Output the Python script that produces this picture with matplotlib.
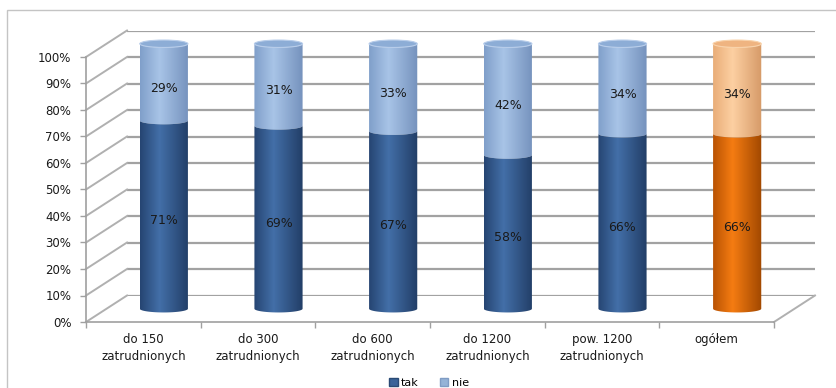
import numpy as np
import matplotlib
matplotlib.use("Agg")
import matplotlib.pyplot as plt
from matplotlib.patches import PathPatch, Ellipse, Rectangle, Patch
from matplotlib.path import Path
from matplotlib.colors import LinearSegmentedColormap
from matplotlib.lines import Line2D
from matplotlib.transforms import IdentityTransform

categories = ["do 150\nzatrudnionych", "do 300\nzatrudnionych", "do 600\nzatrudnionych",
              "do 1200\nzatrudnionych", "pow. 1200\nzatrudnionych", "ogółem"]
tak = [71, 69, 67, 58, 66, 66]
nie = [29, 31, 33, 42, 34, 34]
tick_values = list(range(0, 101, 10))
legend_labels = ["tak", "nie"]

W, H = 836, 388
fig = plt.figure(figsize=(W / 100, H / 100), dpi=100)


def box(left, top, width, height):
    return [left / W, (H - top - height) / H, width / W, height / H]


# three planes of the fake 3d box: front (axes), middle (cylinders), back (walls)
PW, PH = 688, 265
DX, DY = 20.5, 13.25
MARGIN = 5  # extra room (in %) around the cylinder plane so caps/bottoms are not clipped
mpx = PH / 100 * MARGIN
front = fig.add_axes(box(86, 57, PW, PH))
mid = fig.add_axes(box(86 + DX, 57 - DY - mpx, PW, PH + 2 * mpx))
back = fig.add_axes(box(86 + 2 * DX, 57 - 2 * DY, PW, PH))
back.set_zorder(0)
front.set_zorder(1)
mid.set_zorder(2)

grid_col = "#a2a2a2"
for a in (front, back):
    a.set_xlim(-0.5, len(categories) - 0.5)
    a.set_ylim(0, 100)
    a.patch.set_visible(False)
mid.patch.set_visible(False)

# back wall gridlines
back.set_yticks(tick_values)
back.yaxis.grid(True, color=grid_col, lw=1.6)
back.tick_params(left=False, labelleft=False, bottom=False, labelbottom=False)
for s in back.spines.values():
    s.set_visible(False)

# front axes: tick labels and axis lines
for side in ("top", "right"):
    front.spines[side].set_visible(False)
for side in ("left", "bottom"):
    front.spines[side].set_color("#a0a0a0")
    front.spines[side].set_linewidth(1.2)
front.set_yticks(tick_values)
front.set_yticklabels([f"{v}%" for v in tick_values])
front.tick_params(axis="y", length=4, width=1, color="#a0a0a0", pad=6.5,
                  labelsize=8.5, labelcolor="#1a1a1a")
front.set_xticks(range(len(categories)))
front.set_xticklabels(categories, fontsize=8.5, color="#1a1a1a", linespacing=1.4)
front.set_xticks(np.arange(-0.5, len(categories)), minor=True)
front.tick_params(axis="x", which="major", length=0, pad=8)
front.tick_params(axis="x", which="minor", length=4, width=1, color="#a0a0a0")

# side wall and floor diagonals joining front and back planes
def diagonal(x, y):
    p0 = front.transData.transform((x, y))
    p1 = back.transData.transform((x, y))
    fig.add_artist(Line2D([p0[0], p1[0]], [p0[1], p1[1]], transform=IdentityTransform(),
                          color="#b0b0b0", lw=1.4, zorder=0.5))


for t in tick_values:
    diagonal(-0.5, t)
diagonal(len(categories) - 0.5, 0)

# cylinders
bar_w = 0.42
ry = 1.4
blue_tak = LinearSegmentedColormap.from_list("bt", [(0, "#264572"), (0.4, "#436fa8"), (1, "#223e67")])
blue_nie = LinearSegmentedColormap.from_list("bn", [(0, "#809fca"), (0.4, "#a8c4e7"), (1, "#7592bd")])
orng_tak = LinearSegmentedColormap.from_list("ot", [(0, "#b95303"), (0.4, "#f57c12"), (1, "#a14800")])
orng_nie = LinearSegmentedColormap.from_list("on", [(0, "#e9ad78"), (0.4, "#fdd0a2"), (1, "#d69a68")])
grad = np.linspace(0, 1, 200).reshape(1, -1)


def segment_path(xc, y0, y1):
    th = np.linspace(0, np.pi, 40)
    xl, xr = xc - bar_w / 2, xc + bar_w / 2
    verts = [(xl, y1), (xl, y0)]
    verts += list(zip(xc - bar_w / 2 * np.cos(th), y0 - ry * np.sin(th)))
    verts += [(xr, y1)]
    verts += list(zip(xc + bar_w / 2 * np.cos(th), y1 - ry * np.sin(th)))
    verts += [(xl, y1)]
    codes = [Path.MOVETO] + [Path.LINETO] * (len(verts) - 2) + [Path.CLOSEPOLY]
    return Path(verts, codes)


for i, (t, n) in enumerate(zip(tak, nie)):
    total = t + n
    if categories[i] == "ogółem":
        cmaps, cap, cap_edge = (orng_tak, orng_nie), "#efb481", "#f9d3ab"
    else:
        cmaps, cap, cap_edge = (blue_tak, blue_nie), "#8dadd6", "#b8cdea"
    for (y0, y1, cm) in ((t, total, cmaps[1]), (0, t, cmaps[0])):
        patch = PathPatch(segment_path(i, y0, y1), facecolor="none", edgecolor="none",
                          transform=mid.transData)
        mid.add_patch(patch)
        im = mid.imshow(grad, cmap=cm, extent=[i - bar_w / 2, i + bar_w / 2, y0 - ry - 1, y1 + 1],
                        aspect="auto", interpolation="bilinear", zorder=2)
        im.set_clip_path(patch)
        mid.text(i, (y0 + y1) / 2 - 2.2, f"{y1 - y0}%", ha="center", va="center",
                 fontsize=9, color="#1a1a1a", zorder=4)
    mid.add_patch(Ellipse((i, total), bar_w, 2 * ry, facecolor=cap, edgecolor=cap_edge,
                          lw=0.8, zorder=3))

mid.set_xlim(-0.5, len(categories) - 0.5)
mid.set_ylim(-MARGIN, 100 + MARGIN)
mid.axis("off")

fig.legend(handles=[Patch(facecolor="#3a6399", edgecolor="#2a4a75"),
                    Patch(facecolor="#95b3d7", edgecolor="#7f9cc4")],
           labels=legend_labels, loc="center", bbox_to_anchor=(429 / W, 1 - 383 / H),
           ncol=2, frameon=False, fontsize=8, handlelength=0.75, handleheight=0.75,
           handletextpad=0.3, columnspacing=1.9, borderpad=0)

fig.add_artist(Rectangle((7 / W, -0.5), 2, (H - 10) / H + 0.5, transform=fig.transFigure,
                         fill=False, edgecolor="#c4c4c4", lw=1))

fig.savefig("out.png", dpi=100)
